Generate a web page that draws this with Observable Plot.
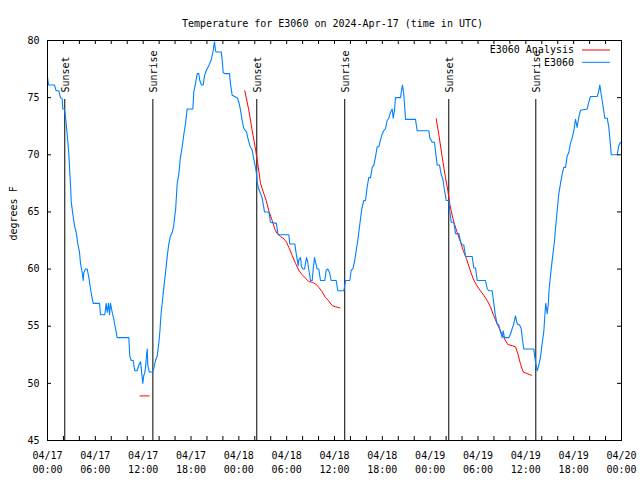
<!DOCTYPE html>
<html>
<head>
<meta charset="utf-8">
<script src="https://cdn.jsdelivr.net/npm/d3@7"></script>
<script src="https://cdn.jsdelivr.net/npm/@observablehq/plot@0.6"></script>
<style>
  html, body { margin: 0; padding: 0; background: white; }
</style>
</head>
<body>
<div id="chart"></div>
<script>
// ---- data (hours after 2024-04-17 00:00 UTC, degrees F) ----
const title = "Temperature for E3060 on 2024-Apr-17 (time in UTC)";
const yLabel = "degrees F";
const yTicks = [45, 50, 55, 60, 65, 70, 75, 80];
const startTime = "2024-04-17T00:00Z";
const endTime = "2024-04-20T00:00Z";

const observed = [
[0,76.8],[0.13,76.1],[0.88,76.1],[1.09,75.6],[1.42,75.6],[1.63,75.0],[1.84,74.9],[1.92,74.0],[2.13,74.0],[2.26,73.3],[2.47,71.8],[2.67,70.1],[2.89,67.3],[2.98,65.9],[3.14,65.0],[3.39,63.8],[3.6,63.2],[3.8,62.2],[4.01,61.5],[4.14,60.5],[4.35,59.7],[4.48,59.0],[4.55,59.7],[4.77,60.0],[4.98,60.0],[5.18,59.3],[5.39,58.3],[5.61,57.4],[5.73,57.0],[6.52,57.0],[6.65,56.0],[7.19,56.0],[7.36,57.0],[7.49,56.2],[7.65,57.0],[7.78,56.0],[7.9,57.0],[8.12,56.2],[8.32,55.6],[8.53,54.8],[8.74,54.0],[10.2,54.0],[10.32,52.4],[10.5,52.0],[10.75,52.0],[10.95,51.1],[11.25,51.1],[11.45,51.6],[11.67,51.9],[11.75,51.4],[11.88,50.5],[11.95,50.0],[12.08,50.7],[12.2,50.9],[12.33,51.6],[12.42,52.5],[12.51,53.0],[12.58,51.6],[12.76,51.0],[13.17,51.0],[13.33,51.3],[13.55,52.0],[13.76,52.4],[13.96,53.5],[14.09,54.5],[14.26,56.2],[14.43,57.3],[14.59,58.4],[14.76,59.4],[14.93,60.5],[15.05,61.3],[15.22,62.2],[15.43,62.9],[15.64,63.2],[15.84,63.8],[15.97,64.7],[16.06,65.1],[16.27,67.5],[16.47,68.3],[16.68,69.8],[16.9,70.7],[17.1,71.8],[17.31,72.7],[17.52,74.0],[18.23,74.0],[18.35,75.5],[18.56,76.2],[18.78,77.1],[18.98,77.1],[19.1,76.5],[19.32,76.1],[19.53,76.1],[19.69,76.9],[19.94,77.4],[20.23,77.8],[20.53,78.3],[20.78,79.1],[20.95,79.9],[21.07,79.1],[21.16,79.0],[21.79,79.0],[21.91,78.3],[22.04,77.2],[22.24,77.1],[22.83,77.1],[22.95,76.2],[23.17,75.2],[23.8,75.0],[24.0,74.6],[24.21,73.9],[24.42,73.0],[24.62,72.3],[24.96,72.0],[25.12,71.5],[25.38,70.8],[25.68,70.4],[25.88,69.6],[26.09,68.9],[26.22,68.3],[26.3,67.6],[26.5,67.0],[26.72,66.6],[26.93,66.2],[27.05,65.7],[27.22,65.0],[27.78,65.0],[27.97,64.1],[28.72,64.0],[28.89,63.1],[29.01,63.0],[30.27,63.0],[30.39,62.2],[31.02,62.2],[31.23,61.2],[31.45,60.3],[31.52,60.8],[31.74,61.0],[31.86,60.2],[32.07,60.0],[32.24,60.0],[32.49,61.0],[32.65,60.6],[32.78,59.9],[32.99,59.0],[33.2,59.0],[33.33,60.0],[33.49,61.0],[33.62,60.6],[33.83,60.0],[34.03,60.0],[34.24,59.0],[34.78,59.0],[34.96,59.9],[35.16,60.0],[35.37,59.7],[35.59,59.0],[36.21,59.0],[36.41,58.1],[37.17,58.1],[37.38,59.0],[37.92,59.0],[38.09,59.9],[38.3,60.0],[38.55,60.8],[38.76,61.8],[38.92,62.5],[39.1,63.5],[39.26,64.4],[39.43,65.3],[39.68,66.0],[39.89,66.0],[40.1,67.2],[40.3,68.0],[40.52,68.0],[40.73,68.9],[40.93,69.1],[41.14,69.8],[41.35,70.7],[41.56,70.7],[41.77,71.3],[41.98,71.8],[42.18,72.1],[42.4,72.3],[42.61,73.0],[42.81,73.2],[43.02,73.7],[43.24,74.0],[43.36,73.2],[43.53,73.9],[43.65,75.0],[44.28,75.0],[44.4,75.6],[44.53,76.1],[44.69,75.3],[44.91,73.1],[46.16,73.1],[46.37,72.1],[47.83,72.1],[47.95,71.5],[48.26,71.1],[48.54,71.1],[48.76,69.8],[48.88,69.1],[49.17,69.1],[49.38,68.3],[49.58,67.9],[49.8,66.9],[50.01,66.0],[50.34,66.0],[50.46,65.1],[50.64,64.1],[50.97,64.1],[51.18,63.1],[51.6,63.1],[51.81,62.4],[52.02,62.1],[52.22,62.1],[52.44,61.1],[53.27,61.1],[53.47,60.1],[53.69,60.1],[53.9,59.0],[54.94,59.0],[55.15,58.3],[55.35,58.1],[55.78,58.1],[55.98,57.0],[56.19,55.9],[56.4,55.2],[56.61,55.1],[56.82,54.5],[57.03,54.0],[57.16,54.6],[57.32,54.0],[57.86,54.0],[58.07,54.3],[58.29,54.8],[58.49,55.2],[58.7,55.9],[58.92,55.2],[59.21,55.1],[59.42,54.8],[59.58,53.8],[59.75,53.0],[61.0,53.0],[61.13,52.3],[61.25,51.7],[61.43,51.1],[61.63,51.6],[61.84,52.3],[62.05,53.5],[62.25,54.5],[62.43,56.4],[62.5,57.0],[62.68,56.1],[62.8,56.8],[62.93,58.3],[63.09,59.4],[63.26,60.5],[63.43,61.5],[63.6,62.5],[63.72,63.5],[63.85,64.5],[64.01,65.7],[64.14,66.6],[64.35,67.5],[64.56,68.3],[64.76,68.9],[64.98,68.9],[65.19,69.9],[65.39,70.2],[65.6,71.0],[65.82,71.5],[66.02,72.1],[66.23,73.1],[66.44,72.4],[66.65,73.3],[66.86,73.9],[67.7,74.0],[67.9,74.6],[68.11,75.1],[68.95,75.1],[69.15,75.6],[69.28,76.1],[69.45,75.3],[69.7,74.2],[69.91,73.2],[70.21,73.2],[70.41,72.4],[70.62,70.8],[70.71,70.0],[71.46,70.0],[71.66,70.8],[71.87,71.1]
];

const analysisNight1 = [[11.6,48.9],[12.76,48.9]];
const analysisNight2 = [
[24.75,75.6],[25.25,73.9],[25.68,72.1],[26.09,70.5],[26.38,69.2],[26.72,67.5],[27.13,66.6],[27.43,66.0],[27.76,65.1],[28.18,64.25],[28.51,63.5],[28.81,63.1],[29.23,62.85],[29.64,62.65],[29.98,62.35],[30.27,61.9],[30.69,61.2],[31.11,60.5],[31.52,59.9],[31.95,59.5],[32.36,59.2],[32.78,58.9],[33.2,58.85],[33.62,58.7],[34.03,58.4],[34.46,58.0],[34.87,57.5],[35.29,57.2],[35.71,56.8],[36.13,56.7],[36.67,56.6]
];
const analysisNight3 = [
[48.76,73.15],[49.08,71.8],[49.51,69.8],[49.92,68.0],[50.21,66.9],[50.46,65.7],[50.7,64.9],[50.97,64.1],[51.39,63.2],[51.81,62.35],[52.15,61.6],[52.56,60.9],[52.97,60.0],[53.4,59.15],[53.81,58.6],[54.31,58.1],[54.73,57.7],[55.15,57.25],[55.56,56.7],[55.98,55.9],[56.4,55.2],[56.82,54.6],[57.24,54.0],[57.74,53.4],[58.29,53.3],[58.7,53.2],[58.99,52.6],[59.33,51.7],[59.67,51.0],[60.17,50.85],[60.71,50.7]
];

const sunTimes = ["2024-04-17T02:10Z","2024-04-17T13:13Z","2024-04-18T02:15Z","2024-04-18T13:17Z","2024-04-19T02:20Z","2024-04-19T13:15Z"];
const sunLabels = ["Sunset","Sunrise","Sunset","Sunrise","Sunset","Sunrise"];

const legendLabels = ["E3060 Analysis", "E3060"];
const legendColors = ["#ff0000", "#0080ff"];

// ---- build tables ----
const t0 = new Date(startTime).getTime();
const toDate = h => new Date(t0 + h * 3600e3);
const obsData = observed.map(([h, t]) => ({time: toDate(h), temp: t}));
const anaData = [analysisNight1, analysisNight2, analysisNight3].flatMap((seg, i) =>
  seg.map(([h, t]) => ({time: toDate(h), temp: t, seg: i})));
const sunData = sunTimes.map((s, i) => ({time: new Date(s), label: sunLabels[i]}));
const domain = [new Date(startTime), new Date(endTime)];
const minorTicks = d3.utcHour.every(2).range(domain[0], new Date(domain[1].getTime() + 1));
const labelTicks = d3.utcHour.every(6).range(domain[0], new Date(domain[1].getTime() + 1));
const fmt = d3.utcFormat("%m/%d\n%H:%M");

function legend(index, scales, values, dims) {
  const g = d3.create("svg:g");
  const xr = dims.width - dims.marginRight;
  legendLabels.forEach((lab, i) => {
    const y = dims.marginTop + 10 + i * 12.3;
    g.append("text").attr("x", xr - 47).attr("y", y).attr("dy", "0.32em")
      .attr("text-anchor", "end").attr("fill", "black").text(lab);
    g.append("line").attr("x1", xr - 39).attr("x2", xr - 11).attr("y1", y).attr("y2", y)
      .attr("stroke", legendColors[i]).attr("stroke-width", 1);
  });
  return g.node();
}

const chart = Plot.plot({
  width: 640,
  height: 480,
  marginLeft: 47,
  marginRight: 19,
  marginTop: 40,
  marginBottom: 40,
  style: {fontFamily: "'DejaVu Sans Mono', monospace", fontSize: "10px", background: "white", color: "black"},
  x: {type: "utc", domain, axis: null},
  y: {domain: [45, 80], axis: null},
  marks: [
    Plot.ruleX(sunData, {x: "time", insetTop: 59, stroke: "black", strokeWidth: 1}),
    Plot.text(sunData, {x: "time", text: "label", frameAnchor: "top", rotate: -90, textAnchor: "start", dy: 52, dx: -3, fill: "black"}),
    Plot.line(anaData, {x: "time", y: "temp", z: "seg", stroke: legendColors[0], strokeWidth: 1}),
    Plot.line(obsData, {x: "time", y: "temp", stroke: legendColors[1], strokeWidth: 1.1}),
    Plot.ruleX(minorTicks, {x: d => d, insetTop: 396, stroke: "black"}),
    Plot.ruleX(minorTicks, {x: d => d, insetBottom: 396, stroke: "black"}),
    Plot.ruleY(yTicks, {y: d => d, insetRight: 570, stroke: "black"}),
    Plot.ruleY(yTicks, {y: d => d, insetLeft: 570, stroke: "black"}),
    Plot.text(labelTicks, {x: d => d, text: d => fmt(d), frameAnchor: "bottom", lineAnchor: "top", dy: 8, lineHeight: 1.45, fill: "black"}),
    Plot.text(yTicks, {y: d => d, text: d => String(d), frameAnchor: "left", textAnchor: "end", dx: -8, fill: "black"}),
    Plot.text([yLabel], {text: d => d, frameAnchor: "left", rotate: -90, dx: -34, fill: "black"}),
    Plot.text([title], {text: d => d, frameAnchor: "top", dy: -21, dx: -2, fill: "black"}),
    Plot.frame({stroke: "black"}),
    legend
  ]
});
document.getElementById("chart").appendChild(chart);
</script>
</body>
</html>
